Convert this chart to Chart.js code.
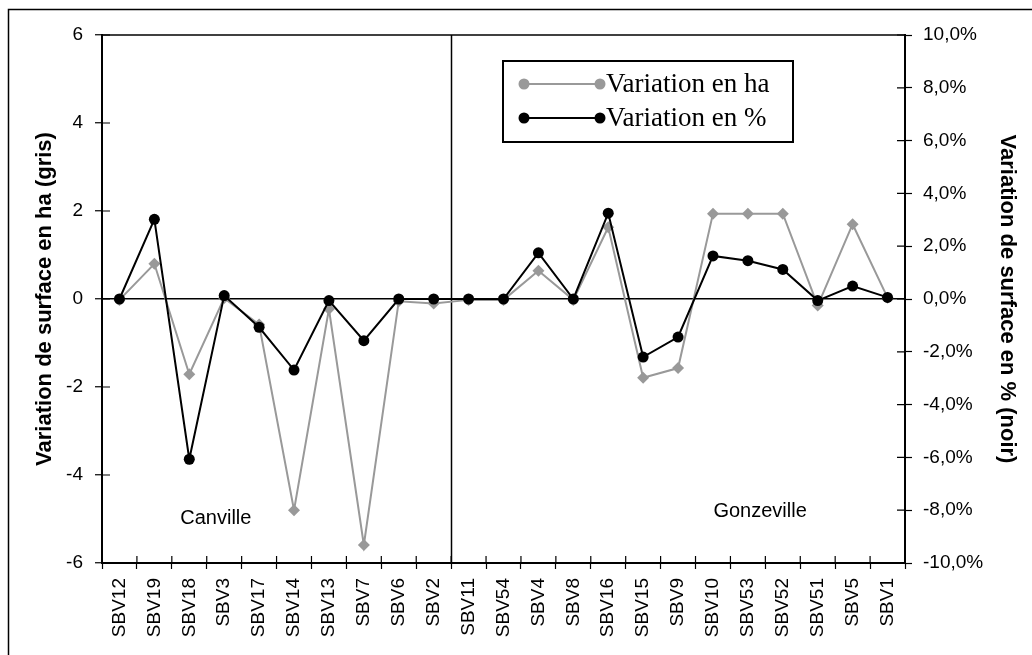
<!DOCTYPE html>
<html>
<head>
<meta charset="utf-8">
<script src="https://cdn.jsdelivr.net/npm/chart.js@4/dist/chart.umd.min.js"></script>
<style>
  html, body { margin: 0; padding: 0; background: #fff; }
  #wrap { position: relative; width: 1032px; height: 655px; }
</style>
</head>
<body>
<div id="wrap"><canvas id="chart" width="1032" height="655"></canvas></div>
<script>
// sub-basins (Canville: first 10, Gonzeville: the rest)
const categories = ['SBV12','SBV19','SBV18','SBV3','SBV17','SBV14','SBV13','SBV7','SBV6','SBV2',
  'SBV11','SBV54','SBV4','SBV8','SBV16','SBV15','SBV9','SBV10','SBV53','SBV52','SBV51','SBV5','SBV1'];

// surface change in ha (grey, left axis)
const variationHa = [-0.02, 0.8, -1.71, 0.02, -0.58, -4.8, -0.23, -5.59, -0.05, -0.1,
  -0.02, -0.02, 0.64, -0.02, 1.63, -1.79, -1.57, 1.94, 1.94, 1.94, -0.15, 1.7, 0.03];

// surface change in % (black, right axis)
const variationPct = [0, 3.02, -6.07, 0.13, -1.07, -2.69, -0.06, -1.58, 0, 0,
  0, 0, 1.75, 0, 3.25, -2.2, -1.44, 1.63, 1.45, 1.12, -0.06, 0.49, 0.06];

const seriesLabels = ['Variation en ha', 'Variation en %'];
const leftTicks = [-6, -4, -2, 0, 2, 4, 6];
const rightTicks = [-10, -8, -6, -4, -2, 0, 2, 4, 6, 8, 10];

// zone names, placed in data coordinates
const zoneNames = ['Canville', 'Gonzeville'];
const zoneX = [2.76, 18.35];
const zoneY = [-4.98, -4.82];
const zoneSplit = 9.5; // between SBV2 and SBV11

const GREY = '#999999';
const SANS = "'Liberation Sans', Arial, sans-serif";
const SERIF = "'Liberation Serif', 'Times New Roman', serif";

const fmtPct = v => v.toFixed(1).replace('.', ',') + '%';

// frame, zone split, inner tick halves, zone names and legend
const decorPlugin = {
  id: 'decor',
  beforeDraw(chart) {
    const ctx = chart.ctx;
    ctx.save();
    ctx.strokeStyle = '#000';
    ctx.lineWidth = 1.5;
    ctx.beginPath();
    ctx.moveTo(8.5, chart.height);
    ctx.lineTo(8.5, 9.5);
    ctx.lineTo(chart.width, 9.5);
    ctx.stroke();
    ctx.restore();
  },
  beforeDatasetsDraw(chart) {
    const {ctx, chartArea: a, scales} = chart;
    const x = scales.x;
    ctx.save();
    ctx.strokeStyle = '#000';
    ctx.lineWidth = 1.5;
    // top border
    ctx.beginPath();
    ctx.moveTo(a.left, a.top);
    ctx.lineTo(a.right, a.top);
    ctx.stroke();
    // split line
    const sx = Math.round(x.getPixelForValue(zoneSplit)) + 0.5;
    ctx.beginPath();
    ctx.moveTo(sx, a.top);
    ctx.lineTo(sx, a.bottom);
    ctx.stroke();
    // inner halves of the cross tick marks
    ctx.lineWidth = 1.2;
    ctx.beginPath();
    scales.y.ticks.forEach((t, i) => {
      const py = scales.y.getPixelForTick(i);
      ctx.moveTo(a.left, py); ctx.lineTo(a.left + 8, py);
    });
    scales.y1.ticks.forEach((t, i) => {
      const py = scales.y1.getPixelForTick(i);
      ctx.moveTo(a.right - 8, py); ctx.lineTo(a.right, py);
    });
    for (let i = 0; i <= categories.length; i++) {
      const px = x.getPixelForValue(i - 0.5);
      ctx.moveTo(px, a.bottom - 7); ctx.lineTo(px, a.bottom);
    }
    ctx.stroke();
    // zone names
    ctx.fillStyle = '#000';
    ctx.font = '20px ' + SANS;
    ctx.textAlign = 'center';
    ctx.textBaseline = 'middle';
    zoneNames.forEach((n, i) => {
      ctx.fillText(n, x.getPixelForValue(zoneX[i]), scales.y.getPixelForValue(zoneY[i]));
    });
    ctx.restore();
  },
  afterDraw(chart) {
    const ctx = chart.ctx;
    const box = {left: 503, top: 61, width: 290, height: 81};
    ctx.save();
    ctx.fillStyle = '#fff';
    ctx.fillRect(box.left, box.top, box.width, box.height);
    ctx.strokeStyle = '#000';
    ctx.lineWidth = 2;
    ctx.strokeRect(box.left, box.top, box.width, box.height);
    const rows = [84, 118];
    chart.data.datasets.forEach((ds, i) => {
      const y = rows[i];
      ctx.strokeStyle = ds.borderColor;
      ctx.fillStyle = ds.borderColor;
      ctx.lineWidth = ds.borderWidth;
      ctx.beginPath();
      ctx.moveTo(524, y); ctx.lineTo(600, y);
      ctx.stroke();
      [524, 600].forEach(cx => {
        ctx.beginPath();
        ctx.arc(cx, y, 5.5, 0, Math.PI * 2);
        ctx.fill();
      });
      ctx.fillStyle = '#000';
      ctx.font = '27px ' + SERIF;
      ctx.textAlign = 'left';
      ctx.textBaseline = 'middle';
      ctx.fillText(ds.label, 606, y + 1);
    });
    ctx.restore();
  }
};

new Chart(document.getElementById('chart'), {
  type: 'line',
  data: {
    labels: categories,
    datasets: [
      {
        label: seriesLabels[0],
        data: variationHa,
        yAxisID: 'y',
        borderColor: GREY,
        backgroundColor: GREY,
        borderWidth: 2,
        pointStyle: 'rectRot',
        pointRadius: 6,
        pointBorderWidth: 0,
        tension: 0,
        order: 1
      },
      {
        label: seriesLabels[1],
        data: variationPct,
        yAxisID: 'y1',
        borderColor: '#000',
        backgroundColor: '#000',
        borderWidth: 2,
        pointStyle: 'circle',
        pointRadius: 5.5,
        pointBorderWidth: 0,
        tension: 0,
        order: 0
      }
    ]
  },
  options: {
    responsive: false,
    animation: false,
    events: [],
    layout: { padding: { top: 35, left: 0, right: 0, bottom: 0 } },
    plugins: {
      legend: { display: false },
      tooltip: { enabled: false }
    },
    scales: {
      x: {
        offset: true,
        afterFit: s => { s.height = 92; },
        grid: {
          offset: true,
          drawOnChartArea: false,
          tickLength: 6,
          tickColor: '#000',
          tickWidth: 1.2
        },
        border: { color: '#000', width: 2 },
        ticks: {
          autoSkip: false,
          maxRotation: 90,
          minRotation: 90,
          padding: 9,
          color: '#000',
          font: { family: SANS, size: 19 }
        }
      },
      y: {
        position: 'left',
        min: -6,
        max: 6,
        afterFit: s => { s.width = 102; },
        afterBuildTicks: s => { s.ticks = leftTicks.map(v => ({value: v})); },
        grid: {
          color: c => (c.tick && c.tick.value === 0 ? '#000' : 'rgba(0,0,0,0)'),
          lineWidth: 1.5,
          tickLength: 7,
          tickColor: '#000',
          tickWidth: 1.2
        },
        border: { color: '#000', width: 2 },
        ticks: {
          padding: 12,
          color: '#000',
          font: { family: SANS, size: 19 }
        },
        title: {
          display: true,
          text: 'Variation de surface en ha (gris)',
          color: '#000',
          font: { family: SANS, size: 22, weight: 'bold' },
          padding: { top: 32, bottom: 0 }
        }
      },
      y1: {
        position: 'right',
        min: -10,
        max: 10,
        afterFit: s => { s.width = 127; },
        afterBuildTicks: s => { s.ticks = rightTicks.map(v => ({value: v})); },
        grid: {
          drawOnChartArea: false,
          tickLength: 7,
          tickColor: '#000',
          tickWidth: 1.2
        },
        border: { color: '#000', width: 2 },
        ticks: {
          padding: 11,
          color: '#000',
          font: { family: SANS, size: 19 },
          callback: v => fmtPct(v)
        },
        title: {
          display: true,
          text: 'Variation de surface en % (noir)',
          color: '#000',
          font: { family: SANS, size: 22, weight: 'bold' },
          padding: { top: 12, bottom: 0 }
        }
      }
    }
  },
  plugins: [decorPlugin]
});
</script>
</body>
</html>
